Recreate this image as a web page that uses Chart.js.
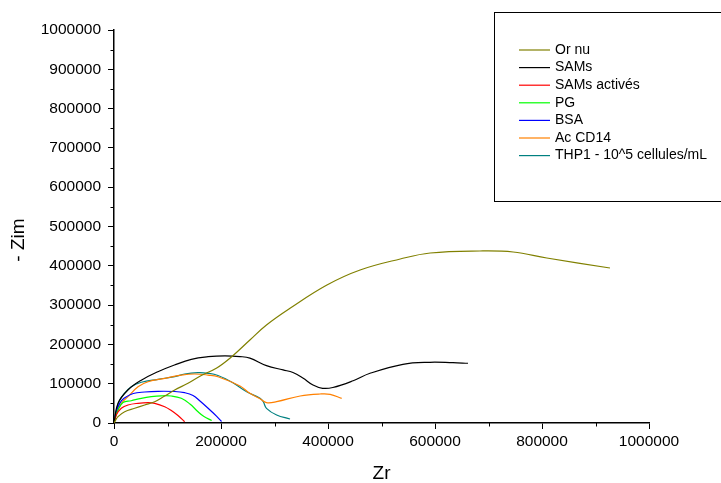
<!DOCTYPE html>
<html>
<head>
<meta charset="utf-8">
<script src="https://cdn.jsdelivr.net/npm/chart.js@4/dist/chart.umd.min.js"></script>
<style>
  html, body { margin: 0; padding: 0; background: #fff; }
  #nyquist { display: block; }
</style>
</head>
<body>
<canvas id="nyquist" width="721" height="483"></canvas>
<script>
// Données (Zr, -Zim)
const orNuZr  = [0, 7500, 20000, 38700, 57400, 76100, 94800, 113500, 138300, 163200, 192000, 220000, 254000, 285000, 329000, 398000, 460000, 535000, 591000, 684000, 746000, 809000, 927000];
const orNuZim = [0, 16000, 28700, 37400, 45800, 54200, 68700, 84000, 101000, 121000, 140000, 168700, 211200, 249400, 291900, 351100, 389300, 417300, 432600, 437700, 435100, 419800, 394400];

const samsZr  = [0, 7500, 26000, 51000, 82000, 113000, 144500, 176000, 207000, 235500, 254000, 285000, 316000, 334500, 353000, 372000, 390000, 409000, 447000, 478500, 540000, 590600, 633600, 661700];
const samsZim = [0, 50000, 84000, 109000, 130500, 147600, 162000, 168700, 171000, 169000, 165000, 146000, 135000, 128500, 114500, 96700, 88300, 90300, 107600, 126500, 149400, 154500, 153400, 152000];

const activesZr  = [0, 4300, 13600, 26200, 44900, 63600, 76100, 94800, 107100, 119600, 132000];
const activesZim = [0, 20400, 37400, 45800, 50100, 51700, 50100, 41500, 31800, 19100, 3300];

const pgZr  = [0, 3700, 7500, 16800, 32300, 51000, 69700, 88400, 107100, 125800, 142000, 157000, 168200, 182600];
const pgZim = [0, 20000, 33000, 52000, 56700, 62800, 67000, 69200, 68700, 62800, 48300, 28700, 16500, 6400];

const bsaZr  = [0, 4300, 10700, 18700, 36000, 57400, 82200, 113500, 132000, 147700, 160700, 179400, 192000, 201000];
const bsaZim = [0, 28700, 50000, 62800, 75000, 78900, 80700, 80200, 77100, 70000, 56000, 33100, 17000, 3800];

const cd14Zr  = [0, 5600, 13600, 26200, 44900, 63600, 94800, 125800, 150800, 175700, 194400, 235500, 254000, 273000, 285000, 304000, 348000, 385000, 404000, 425600];
const cd14Zim = [0, 28000, 50000, 67000, 92400, 105000, 113700, 122000, 124700, 122000, 117800, 94100, 75600, 61600, 51700, 54200, 68700, 73800, 73000, 62800];

const thp1Zr  = [0, 4300, 10700, 16800, 32300, 51000, 82200, 113500, 132000, 157000, 175700, 194400, 223000, 248000, 273000, 279000, 285000, 304000, 329000];
const thp1Zim = [0, 33000, 58500, 71200, 92400, 103600, 111200, 117800, 124700, 128000, 126500, 120900, 101800, 79600, 62800, 54200, 37400, 20400, 10200];

const seriesLabels = ['Or nu', 'SAMs', 'SAMs activés', 'PG', 'BSA', 'Ac CD14', 'THP1 - 10^5 cellules/mL'];
const seriesColors = ['#808000', '#000000', '#ff0000', '#00ff00', '#0000ff', '#ff8000', '#008080'];
const seriesZr  = [orNuZr, samsZr, activesZr, pgZr, bsaZr, cd14Zr, thp1Zr];
const seriesZim = [orNuZim, samsZim, activesZim, pgZim, bsaZim, cd14Zim, thp1Zim];

const FONT = '"Liberation Sans", Arial, sans-serif';

function toPoints(xs, ys) {
    return xs.map((x, i) => ({ x: x, y: ys[i] }));
}

const datasets = seriesLabels.map((label, i) => ({
    label: label,
    data: toPoints(seriesZr[i], seriesZim[i]),
    borderColor: seriesColors[i],
    backgroundColor: seriesColors[i],
    borderWidth: 1.2,
    showLine: true,
    pointRadius: 0,
    tension: 0.4,
    fill: false
}));

// Petites graduations + titre vertical + légende encadrée
const decorPlugin = {
    id: 'decor',
    afterDraw(chart) {
        const c = chart.ctx;
        const xs = chart.scales.x, ys = chart.scales.y;
        const area = chart.chartArea;
        c.save();
        c.strokeStyle = '#000';
        c.lineWidth = 1;
        for (let v = 50000; v < 1000000; v += 100000) {
            const py = Math.round(ys.getPixelForValue(v)) + 0.5;
            c.beginPath(); c.moveTo(area.left - 3.5, py); c.lineTo(area.left, py); c.stroke();
        }
        for (let v = 100000; v < 1000000; v += 200000) {
            const px = Math.round(xs.getPixelForValue(v)) + 0.5;
            c.beginPath(); c.moveTo(px, area.bottom); c.lineTo(px, area.bottom + 3.5); c.stroke();
        }

        // titre axe Y
        c.fillStyle = '#000';
        c.font = '19px ' + FONT;
        c.textAlign = 'center';
        c.textBaseline = 'middle';
        c.translate(19, 240);
        c.rotate(-Math.PI / 2);
        c.fillText('- Zim', 0, 0);
        c.setTransform(1, 0, 0, 1, 0, 0);

        // légende
        c.lineWidth = 1;
        c.strokeRect(494.5, 12.5, 240, 189);
        c.font = '14px ' + FONT;
        c.textAlign = 'left';
        chart.data.datasets.forEach((ds, i) => {
            const y = 50 + i * 17.6;
            c.strokeStyle = ds.borderColor;
            c.lineWidth = 1.2;
            c.beginPath(); c.moveTo(519, y); c.lineTo(550, y); c.stroke();
            c.fillStyle = '#000';
            c.fillText(ds.label, 555, y);
        });
        c.restore();
    }
};

new Chart(document.getElementById('nyquist'), {
    type: 'scatter',
    data: { datasets: datasets },
    plugins: [decorPlugin],
    options: {
        responsive: false,
        animation: false,
        layout: { padding: { left: 0, top: 30, right: 72, bottom: 0 } },
        plugins: {
            legend: { display: false },
            tooltip: { enabled: false }
        },
        scales: {
            x: {
                type: 'linear',
                min: 0,
                max: 1000000,
                afterFit: s => { s.height = 60; },
                border: { display: true, color: '#000', width: 1.5 },
                grid: { display: true, drawOnChartArea: false, drawTicks: true, tickLength: 6, tickColor: '#000', tickWidth: 1 },
                ticks: {
                    stepSize: 200000,
                    color: '#000',
                    padding: 3,
                    maxRotation: 0,
                    font: { family: FONT, size: 15.5 },
                    callback: v => String(v)
                },
                title: {
                    display: true,
                    text: 'Zr',
                    color: '#000',
                    font: { family: FONT, size: 19, lineHeight: 1 },
                    padding: { top: 0, bottom: 0 }
                }
            },
            y: {
                type: 'linear',
                min: 0,
                max: 1000000,
                afterFit: s => { s.width = 114; },
                border: { display: true, color: '#000', width: 1.5 },
                grid: { display: true, drawOnChartArea: false, drawTicks: true, tickLength: 6, tickColor: '#000', tickWidth: 1 },
                ticks: {
                    stepSize: 100000,
                    color: '#000',
                    padding: 7,
                    font: { family: FONT, size: 15.5 },
                    callback: v => String(v)
                }
            }
        }
    }
});
</script>
</body>
</html>
